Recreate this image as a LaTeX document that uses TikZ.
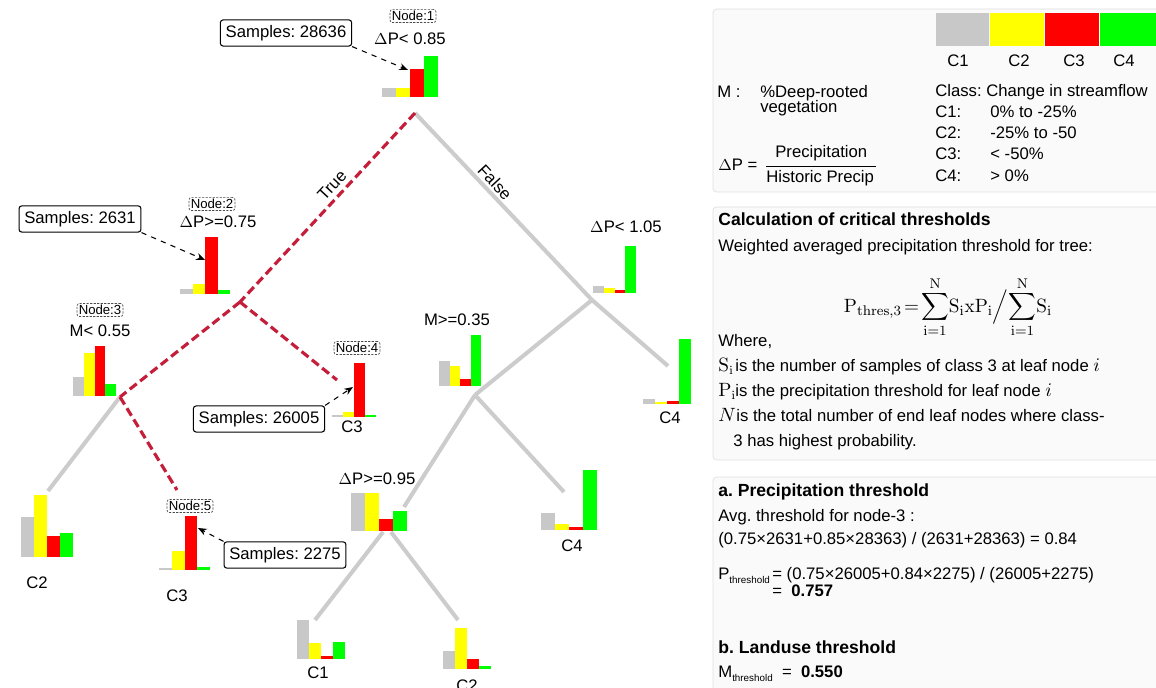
\documentclass[tikz,border=0pt]{standalone}
\usepackage{amsmath}
\usepackage[no-math]{fontspec}
\setmainfont{Liberation Sans}
\usepackage{tikz}
\usetikzlibrary{
    positioning,
    arrows.meta
}
\definecolor{classGray}{RGB}{200, 200, 200}
\definecolor{classYellow}{RGB}{255, 255, 0}
\definecolor{classRed}{RGB}{255, 0, 0}
\definecolor{classGreen}{RGB}{0, 255, 0}
\definecolor{edgeGray}{RGB}{204, 204, 204}
\definecolor{pathRed}{RGB}{196, 30, 58}
\definecolor{panelFill}{RGB}{250, 250, 250}
\definecolor{panelLine}{RGB}{224, 224, 224}

% bars of one tree node: x left, base y, bar width, four heights
\newcommand{\classbars}[7]{%
    \fill[classGray] (#1,#2) rectangle ++(#3,-#4);
    \fill[classYellow] (#1+#3,#2) rectangle ++(#3,-#5);
    \fill[classRed] (#1+2*#3,#2) rectangle ++(#3,-#6);
    \fill[classGreen] (#1+3*#3,#2) rectangle ++(#3,-#7);
}
% small lowered subscript in text
\newcommand{\tinysub}[1]{\raisebox{-2.2pt}{\fontsize{5.6}{6}\selectfont #1}}

\begin{document}
\frenchspacing
\begin{tikzpicture}[x=0.02cm, y=-0.02cm, >={Stealth[length=5pt, width=4pt]},
        font=\fontsize{9.5}{11.5}\selectfont,
        edge/.style={line width=2.3pt, edgeGray},
        truepath/.style={line width=1.8pt, pathRed, dash pattern=on 5pt off 2.5pt},
        samplebox/.style={draw, fill=white, rounded corners=1.5pt, line width=0.6pt, inner xsep=3pt, inner ysep=3pt},
        nodetag/.style={draw=black!70, dash pattern=on 1.2pt off 0.8pt, rounded corners=1.5pt, inner sep=1pt, font=\fontsize{7.5}{9}\selectfont},
        ptext/.style={anchor=base west, inner sep=0pt},
        panel/.style={fill=panelFill, draw=panelLine, rounded corners=2pt}]
    \useasboundingbox (0,0) rectangle (1156,688);

    % Tree points
    \coordinate (r) at (415,113);
    \coordinate (n2) at (240,302);
    \coordinate (n3) at (120,397);
    \coordinate (n4) at (337,380);
    \coordinate (n5) at (177,490);
    \coordinate (lc2) at (48,491);
    \coordinate (f1) at (592,300);
    \coordinate (lc4a) at (668,366);
    \coordinate (m1) at (475,395);
    \coordinate (lc4b) at (564,492);
    \coordinate (p95) at (404,507);
    \coordinate (p95l) at (383,532);
    \coordinate (p95r) at (391,532);
    \coordinate (lc1) at (315,620);
    \coordinate (lc2b) at (458,620);

    % Gray branches
    \draw[edge] (r) -- (f1);
    \draw[edge] (f1) -- (lc4a);
    \draw[edge] (f1) -- (m1);
    \draw[edge] (m1) -- (p95);
    \draw[edge] (m1) -- (lc4b);
    \draw[edge] (p95l) -- (lc1);
    \draw[edge] (p95r) -- (lc2b);
    \draw[edge] (n3) -- (lc2);

    % Path to class 3
    \draw[truepath] (r) -- (n2);
    \draw[truepath] (n2) -- (n4);
    \draw[truepath] (n2) -- (n3);
    \draw[truepath] (n3) -- (n5);

    \node[rotate=47] (tlab) at (332,185) {True};
    \node[rotate=-47] (flab) at (495,182) {False};

    % Bars
    \classbars{382}{97}{14}{9}{9}{28}{41}
    \classbars{180}{294}{12.5}{5}{10}{57}{4}
    \classbars{73}{396}{10.75}{19}{43}{50}{12}
    \classbars{332}{417}{11}{1.5}{5}{54}{2}
    \classbars{159}{570}{12.75}{2}{19}{54}{3}
    \classbars{21}{557}{13}{40}{62}{21}{24}
    \classbars{351}{531}{14}{38}{38}{12}{20}
    \classbars{297}{659}{12}{39}{16}{3}{17}
    \classbars{443}{669}{12}{18}{41}{10}{3}
    \classbars{593}{293}{10.75}{7}{5}{3}{47}
    \classbars{439}{386}{10.5}{25}{20}{7}{51}
    \classbars{643}{404}{12}{5}{2}{3}{65}
    \classbars{541}{530}{14}{17}{6}{3}{60}

    % Split labels
    \node[nodetag] (tag1) at (413,16) {Node:1};
    \node (lab1) at (410,39) {$\Delta$P< 0.85};
    \node[nodetag] (tag2) at (212,204) {Node:2};
    \node (lab2) at (218,222) {$\Delta$P>=0.75};
    \node[nodetag] (tag3) at (100,310) {Node:3};
    \node (lab3) at (100,331) {M< 0.55};
    \node[nodetag] (tag4) at (357,348) {Node:4};
    \node[nodetag] (tag5) at (190,506) {Node:5};
    \node (lab6) at (626,227) {$\Delta$P< 1.05};
    \node (lab7) at (457,320) {M>=0.35};
    \node (lab8) at (377,479) {$\Delta$P>=0.95};

    % Leaf labels
    \node (leaf4) at (352,427) {C3};
    \node (leaf5) at (177,596) {C3};
    \node (leafa) at (37,583) {C2};
    \node (leafb) at (318,673) {C1};
    \node (leafc) at (467,686) {C2};
    \node (leafd) at (670,418) {C4};
    \node (leafe) at (572,546) {C4};

    % Sample counts
    \node[samplebox] (s1) at (286,33) {Samples: 28636};
    \node[samplebox] (s2) at (80,219) {Samples: 2631};
    \node[samplebox] (s4) at (259,419) {Samples: 26005};
    \node[samplebox] (s5) at (285,555) {Samples: 2275};
    \coordinate (a1) at (408,70);
    \coordinate (a2) at (205,260);
    \coordinate (a4) at (353,387);
    \coordinate (a5) at (198,528);
    \draw[->, dashed, semithick] (s1.south east) -- (a1);
    \draw[->, dashed, semithick] (s2.south east) -- (a2);
    \draw[->, dashed, semithick] (s4.north east) -- (a4);
    \draw[->, dashed, semithick] (s5.north west) -- (a5);

    % Legend panel
    \draw[panel] (713,9) rectangle (1170,192);
    \fill[classGray] (936,13) rectangle (989,46);
    \fill[classYellow] (990,13) rectangle (1044,46);
    \fill[classRed] (1045,13) rectangle (1099,46);
    \fill[classGreen] (1100,13) rectangle (1160,46);
    \node (k1) at (958,61) {C1};
    \node (k2) at (1019,61) {C2};
    \node (k3) at (1074,61) {C3};
    \node (k4) at (1124,61) {C4};
    \node[ptext] (mdef) at (717,98) {M :};
    \node[ptext] (mtxt) at (760,98) {\%Deep-rooted};
    \node[ptext] (mtxt2) at (760,113) {vegetation};
    \node[ptext] (pdef) at (718,171) {$\Delta$P =};
    \node[ptext] (pnum) at (775,158) {Precipitation};
    \node[ptext] (pden) at (766,183) {Historic Precip};
    \draw[line width=0.5pt] (766,166) -- (876,166);
    \node[ptext] (cls) at (935,97) {Class: Change in streamflow};
    \node[ptext] (c1) at (935,118) {C1:};
    \node[ptext] (c1r) at (990,118) {0\% to -25\%};
    \node[ptext] (c2) at (935,139) {C2:};
    \node[ptext] (c2r) at (990,139) {-25\% to -50};
    \node[ptext] (c3) at (935,160) {C3:};
    \node[ptext] (c3r) at (990,160) {< -50\%};
    \node[ptext] (c4) at (935,182) {C4:};
    \node[ptext] (c4r) at (990,182) {> 0\%};

    % Critical thresholds panel
    \draw[panel] (713,207) rectangle (1170,460);
    \node[ptext, font=\fontsize{10}{12}\selectfont\bfseries] (calc) at (718,226) {Calculation of critical thresholds};
    \node[ptext] (wavg) at (718,252) {Weighted averaged precipitation threshold for tree:};
    \node[font=\fontsize{11}{13}\selectfont, inner sep=0pt] (eq) at (948,307)
        {$\displaystyle \mathrm{P}_{\mathrm{thres{,}3}}\!=\!\sum_{\mathrm{i}=1}^{\mathrm{N}}\!\mathrm{S}_{\mathrm{i}}\mathrm{x}\mathrm{P}_{\mathrm{i}}\Big/\!\sum_{\mathrm{i}=1}^{\mathrm{N}}\!\mathrm{S}_{\mathrm{i}}$};
    \node[ptext] (where) at (718,347) {Where,};
    \node[ptext] (si) at (718,372) {\fontsize{10.5}{12}\selectfont$\mathrm{S}_{\mathrm{i}}$};
    \node[ptext] (sitxt) at (735,372) {is the number of samples of class 3 at leaf node \fontsize{11}{13}\selectfont$i$};
    \node[ptext] (pi) at (718,397) {\fontsize{10.5}{12}\selectfont$\mathrm{P}_{\mathrm{i}}$};
    \node[ptext] (pitxt) at (735,397) {is the precipitation threshold for leaf node \fontsize{11}{13}\selectfont$i$};
    \node[ptext] (nn) at (718,422) {\fontsize{10.5}{12}\selectfont$N$};
    \node[ptext] (nntxt) at (736,422) {is the total number of end leaf nodes where class-};
    \node[ptext] (nntxt2) at (733,447) {3 has highest probability.};

    % Threshold results panel
    \draw[panel] (713,477) rectangle (1170,700);
    \node[ptext, font=\fontsize{10}{12}\selectfont\bfseries] (pa) at (718,497) {a. Precipitation threshold};
    \node[ptext] (avg) at (718,522) {Avg. threshold for node-3 :};
    \node[ptext] (avgv) at (718,545) {(0.75×2631+0.85×28363) / (2631+28363) = 0.84};
    \node[ptext] (pth) at (718,580) {P\tinysub{threshold}};
    \node[ptext] (pthv) at (772,580) {= (0.75×26005+0.84×2275) / (26005+2275)};
    \node[ptext] (pthr) at (772,597) {=\ \ \textbf{0.757}};
    \node[ptext, font=\fontsize{10}{12}\selectfont\bfseries] (pb) at (718,654) {b. Landuse threshold};
    \node[ptext] (mth) at (718,678) {M\tinysub{threshold}\ \ =\ \ \textbf{0.550}};
\end{tikzpicture}
\end{document}
